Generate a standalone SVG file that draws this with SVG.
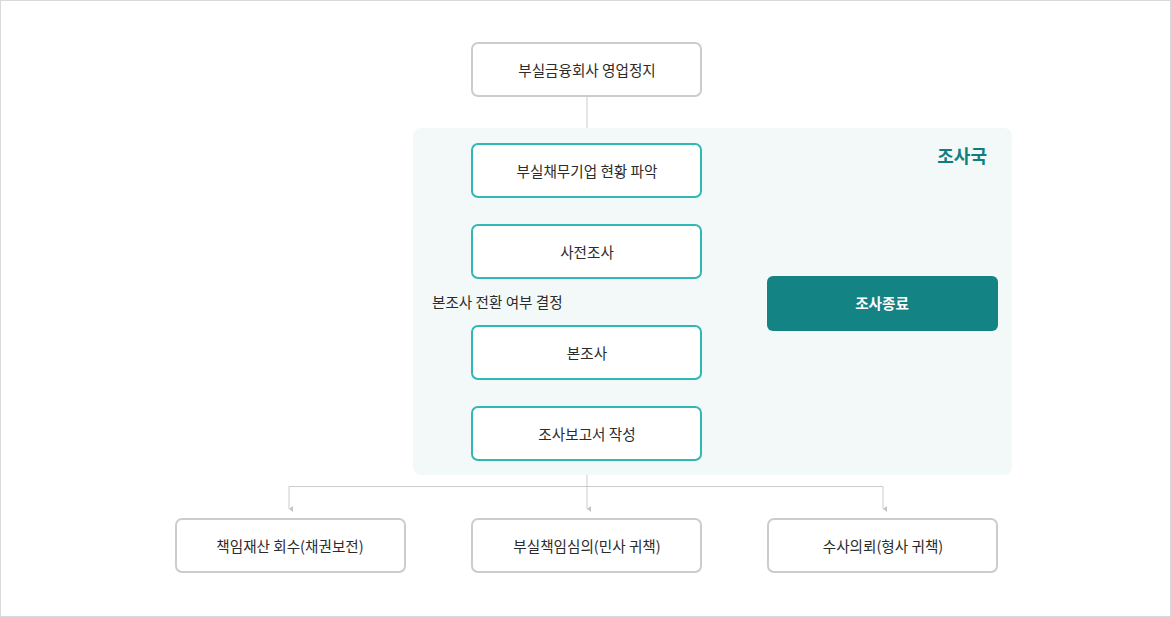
<svg xmlns="http://www.w3.org/2000/svg" width="1171" height="617" viewBox="0 0 1171 617">
<defs>
<style>
.t{font-family:"Noto Sans CJK KR","Noto Sans",sans-serif;font-size:14.6px;fill:#2b2b2b;text-anchor:middle;dominant-baseline:central}
.g{fill:#fff;stroke:#cccccc;stroke-width:2}
.c{fill:#fff;stroke:#2fb8b6;stroke-width:2}
.ln{fill:none;stroke:#cccccc;stroke-width:1}
</style>
<marker id="ah" viewBox="0 0 6 4" refX="3" refY="4" markerWidth="6" markerHeight="4" markerUnits="userSpaceOnUse" orient="auto-start-reverse">
<path d="M0,0 L6,0 L3,4 Z" fill="#c4c4c4"/>
</marker>
</defs>
<rect x="0.5" y="0.5" width="1170" height="616" fill="#fff" stroke="#d9d9d9"/>
<g id="panel">
<rect x="413" y="128" width="599" height="347" rx="8" fill="#f3f9f9"/>
<text x="987" y="155" font-family="Noto Sans CJK KR,Noto Sans,sans-serif" font-size="18" font-weight="bold" fill="#0e7f7d" text-anchor="end" dominant-baseline="central">조사국</text>
</g>
<g id="connectors">
<line class="ln" x1="587" y1="97" x2="587" y2="128"/>
<line class="ln" x1="587" y1="475" x2="587" y2="509" marker-end="url(#ah)"/>
<polyline class="ln" points="289,509 289,486.5 883,486.5 883,509" marker-start="url(#ah)" marker-end="url(#ah)"/>
</g>
<g id="n1"><rect class="g" x="472" y="43" width="229" height="53" rx="6"/><text class="t" x="587" y="69">부실금융회사 영업정지</text></g>
<g id="n2"><rect class="c" x="472" y="144" width="229" height="53" rx="6"/><text class="t" x="587" y="170">부실채무기업 현황 파악</text></g>
<g id="n3"><rect class="c" x="472" y="225" width="229" height="53" rx="6"/><text class="t" x="587" y="251">사전조사</text></g>
<g id="lbl"><text class="t" x="432" y="301" style="text-anchor:start">본조사 전환 여부 결정</text></g>
<g id="n4"><rect class="c" x="472" y="326" width="229" height="53" rx="6"/><text class="t" x="587" y="352">본조사</text></g>
<g id="n5"><rect class="c" x="472" y="407" width="229" height="53" rx="6"/><text class="t" x="587" y="433">조사보고서 작성</text></g>
<g id="n6"><rect x="767" y="276" width="231" height="55" rx="6" fill="#138383"/><text class="t" x="882" y="302.5" style="fill:#fff;font-weight:bold">조사종료</text></g>
<g id="n7"><rect class="g" x="176" y="519" width="229" height="53" rx="6"/><text class="t" x="290" y="545">책임재산 회수(채권보전)</text></g>
<g id="n8"><rect class="g" x="472" y="519" width="229" height="53" rx="6"/><text class="t" x="587" y="545">부실책임심의(민사 귀책)</text></g>
<g id="n9"><rect class="g" x="768" y="519" width="229" height="53" rx="6"/><text class="t" x="883" y="545">수사의뢰(형사 귀책)</text></g>
</svg>
